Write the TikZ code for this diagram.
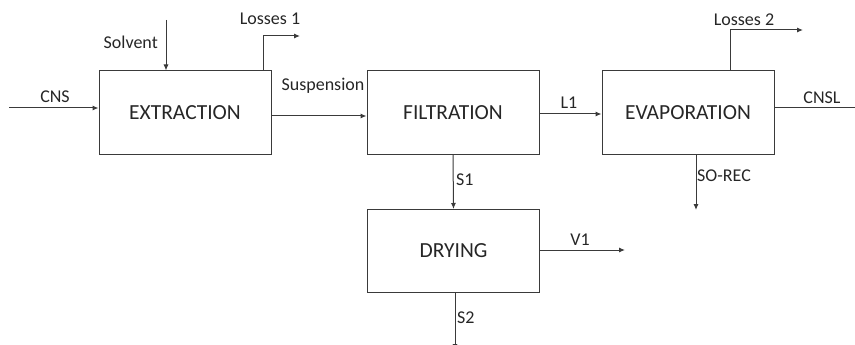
\documentclass[tikz,border=0pt]{standalone}
\usepackage{fontspec}
\setmainfont{Carlito}
\usetikzlibrary{arrows.meta,positioning,calc}
\definecolor{edge}{HTML}{3A3A3A}
\definecolor{ink}{HTML}{262626}
\tikzset{
  unit/.style={rectangle, draw=edge, line width=1pt, minimum width=172pt, minimum height=83pt,
    inner sep=0pt, font=\fontsize{21.5}{24}\selectfont, text=ink},
  flow/.style={-{Latex[length=6pt,width=5pt]}, line width=1pt, draw=edge},
  pipe/.style={line width=1pt, draw=edge},
  lbl/.style={font=\fontsize{18}{20}\selectfont, text=ink, inner sep=0pt},
}
\begin{document}
\begin{tikzpicture}[x=1pt,y=-1pt]
  \useasboundingbox (0,0) rectangle (855,345);
  % process units
  \node[unit] (ext) at (185,112.5) {EXTRACTION};
  \node[unit] (fil) at (453,112.5) {FILTRATION};
  \node[unit] (eva) at (688,112.5) {EVAPORATION};
  \node[unit] (dry) at (453.5,251) {DRYING};
  % free ends
  \coordinate (cns) at (9,108);
  \coordinate (solv) at (166,20);
  \coordinate (loss1) at (300,36);
  \coordinate (loss2) at (803,30);
  \coordinate (cnsl) at (858,108);
  \coordinate (sorec) at (696,210);
  \coordinate (v1) at (625,250);
  \coordinate (s2) at (455,350);
  % streams
  \draw[flow] (cns) -- (cns -| ext.west);
  \draw[flow] (solv) -- (solv |- ext.north);
  \draw[flow] ([xshift=-8pt]ext.north east) |- (loss1);
  \draw[flow] ([yshift=-3.5pt]ext.east) -- ([yshift=-3.5pt]fil.west);
  \draw[flow] ([yshift=-1.5pt]fil.east) -- ([yshift=-1.5pt]eva.west);
  \draw[flow] ([xshift=-44pt]eva.north east) |- (loss2);
  \draw[pipe] (cnsl -| eva.east) -- (cnsl);
  \draw[flow] (sorec |- eva.south) -- (sorec);
  \draw[flow] (fil.south) -- (dry.north);
  \draw[flow] (v1 -| dry.east) -- (v1);
  \draw[flow] (s2 |- dry.south) -- (s2);
  % stream labels
  \node[lbl] (tcns) at (55,97) {CNS};
  \node[lbl, anchor=east] (tsolv) at (158,42) {Solvent};
  \node[lbl] (tloss1) at (270,19) {Losses 1};
  \node[lbl] (tsusp) at (323,86) {Suspension};
  \node[lbl] (tl1) at (569,103) {L1};
  \node[lbl] (tloss2) at (744,20) {Losses 2};
  \node[lbl] (tcnsl) at (822,98) {CNSL};
  \node[lbl, anchor=west] (tsorec) at (697,176) {SO-REC};
  \node[lbl, anchor=west] (ts1) at (456,180) {S1};
  \node[lbl] (tv1) at (580,240) {V1};
  \node[lbl, anchor=west] (ts2) at (457,318) {S2};
\end{tikzpicture}
\end{document}
